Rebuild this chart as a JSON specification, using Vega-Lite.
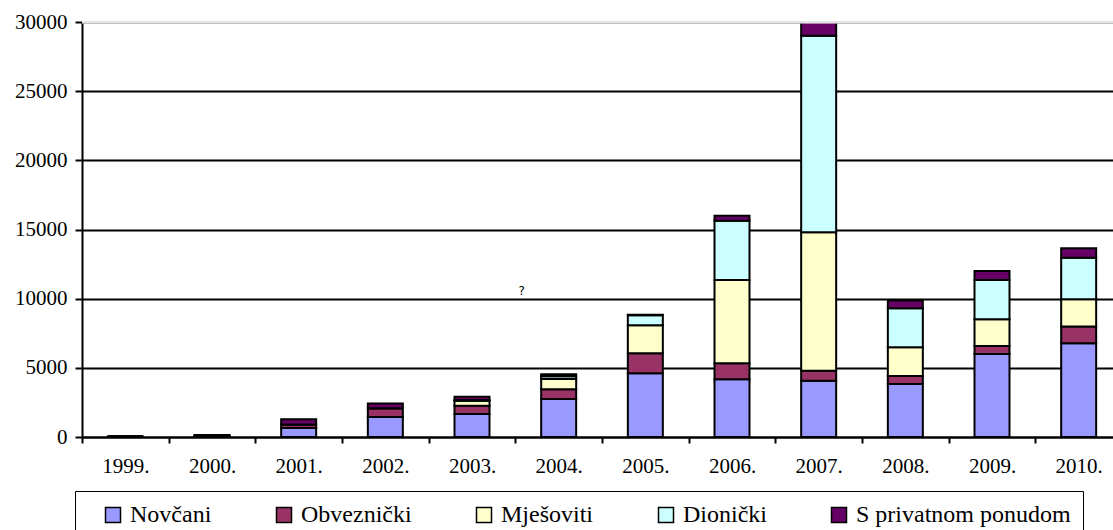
{
  "$schema": "https://vega.github.io/schema/vega-lite/v6.json",
  "autosize": "none",
  "width": 1031,
  "height": 415,
  "padding": {"left": 82, "top": 22, "right": 0, "bottom": 93},
  "background": "white",
  "config": {
    "font": "Liberation Serif",
    "view": {"stroke": null},
    "axis": {"labelFont": "Liberation Serif", "labelFontSize": 21, "labelColor": "black"},
    "legend": {"labelFont": "Liberation Serif", "labelFontSize": 24, "labelColor": "black", "labelLimit": 500},
    "text": {"font": "Liberation Serif"}
  },
  "layer": [
    {
      "data": {
        "values": [
          {"year": "1999.", "Novčani": 40, "Obveznički": 0, "Mješoviti": 0, "Dionički": 0, "S privatnom ponudom": 0},
          {"year": "2000.", "Novčani": 80, "Obveznički": 30, "Mješoviti": 0, "Dionički": 0, "S privatnom ponudom": 40},
          {"year": "2001.", "Novčani": 650, "Obveznički": 250, "Mješoviti": 0, "Dionički": 0, "S privatnom ponudom": 380},
          {"year": "2002.", "Novčani": 1450, "Obveznički": 620, "Mješoviti": 0, "Dionički": 0, "S privatnom ponudom": 360},
          {"year": "2003.", "Novčani": 1660, "Obveznički": 600, "Mješoviti": 360, "Dionički": 50, "S privatnom ponudom": 240},
          {"year": "2004.", "Novčani": 2750, "Obveznički": 700, "Mješoviti": 740, "Dionički": 200, "S privatnom ponudom": 140},
          {"year": "2005.", "Novčani": 4600, "Obveznički": 1450, "Mješoviti": 2030, "Dionički": 720, "S privatnom ponudom": 30},
          {"year": "2006.", "Novčani": 4170, "Obveznički": 1160, "Mješoviti": 6020, "Dionički": 4290, "S privatnom ponudom": 360},
          {"year": "2007.", "Novčani": 4070, "Obveznički": 720, "Mješoviti": 10010, "Dionički": 14210, "S privatnom ponudom": 990},
          {"year": "2008.", "Novčani": 3830, "Obveznički": 580, "Mješoviti": 2070, "Dionički": 2820, "S privatnom ponudom": 560},
          {"year": "2009.", "Novčani": 6000, "Obveznički": 580, "Mješoviti": 1930, "Dionički": 2840, "S privatnom ponudom": 650},
          {"year": "2010.", "Novčani": 6770, "Obveznički": 1210, "Mješoviti": 1970, "Dionički": 3010, "S privatnom ponudom": 680}
        ]
      },
      "transform": [
        {"fold": ["Novčani", "Obveznički", "Mješoviti", "Dionički", "S privatnom ponudom"], "as": ["type", "value"]},
        {"calculate": "indexof(['Novčani', 'Obveznički', 'Mješoviti', 'Dionički', 'S privatnom ponudom'], datum.type)", "as": "ord"}
      ],
      "mark": {"type": "bar", "size": 35, "stroke": "black", "strokeWidth": 2},
      "encoding": {
        "x": {
          "field": "year", "type": "ordinal",
          "scale": {"range": [0, 1040], "paddingInner": 0, "paddingOuter": 0},
          "axis": {
            "title": null, "labelAngle": 0,
            "tickBand": "extent", "tickSize": 6, "tickWidth": 2, "tickColor": "black",
            "domainColor": "black", "domainWidth": 2, "labelPadding": 12, "grid": false
          }
        },
        "y": {
          "field": "value", "type": "quantitative", "stack": "zero",
          "scale": {"domain": [0, 30000], "nice": false},
          "axis": {
            "title": null, "values": [0, 5000, 10000, 15000, 20000, 25000, 30000], "format": "d",
            "labelPadding": 8, "tickSize": 7, "tickWidth": 2, "tickColor": "black",
            "domainColor": "black", "domainWidth": 2,
            "grid": true, "gridColor": "black", "gridWidth": 2
          }
        },
        "color": {
          "field": "type", "type": "nominal",
          "scale": {
            "domain": ["Novčani", "Obveznički", "Mješoviti", "Dionički", "S privatnom ponudom"],
            "range": ["#9999FF", "#993366", "#FFFFCC", "#CCFFFF", "#660066"]
          },
          "legend": {
            "orient": "none", "legendX": -7, "legendY": 469, "direction": "horizontal",
            "title": " ", "titleOrient": "left", "titlePadding": 14, "titleFontSize": 1,
            "strokeColor": "black", "padding": 12, "fillColor": "white",
            "labelOffset": 5, "columnPadding": 60,
            "symbolType": "square", "symbolSize": 225, "symbolStrokeColor": "black",
            "symbolStrokeWidth": 1.5, "symbolOpacity": 1
          }
        },
        "order": {"field": "ord", "type": "quantitative"}
      }
    },
    {
      "data": {"values": [{"v": 30000}]},
      "mark": {"type": "rule", "color": "white", "strokeWidth": 3},
      "encoding": {"y": {"field": "v", "type": "quantitative"}}
    },
    {
      "data": {"values": [{"v": 30000}]},
      "mark": {"type": "rule", "color": "#c8c8c8", "strokeWidth": 1},
      "encoding": {"y": {"field": "v", "type": "quantitative"}}
    },
    {
      "data": {"values": [{"year": "2004.", "v": 10560, "t": "?"}]},
      "mark": {"type": "text", "xOffset": -37, "fontSize": 12, "font": "DejaVu Sans", "color": "black"},
      "encoding": {
        "x": {"field": "year", "type": "ordinal"},
        "y": {"field": "v", "type": "quantitative"},
        "text": {"field": "t"}
      }
    }
  ]
}
